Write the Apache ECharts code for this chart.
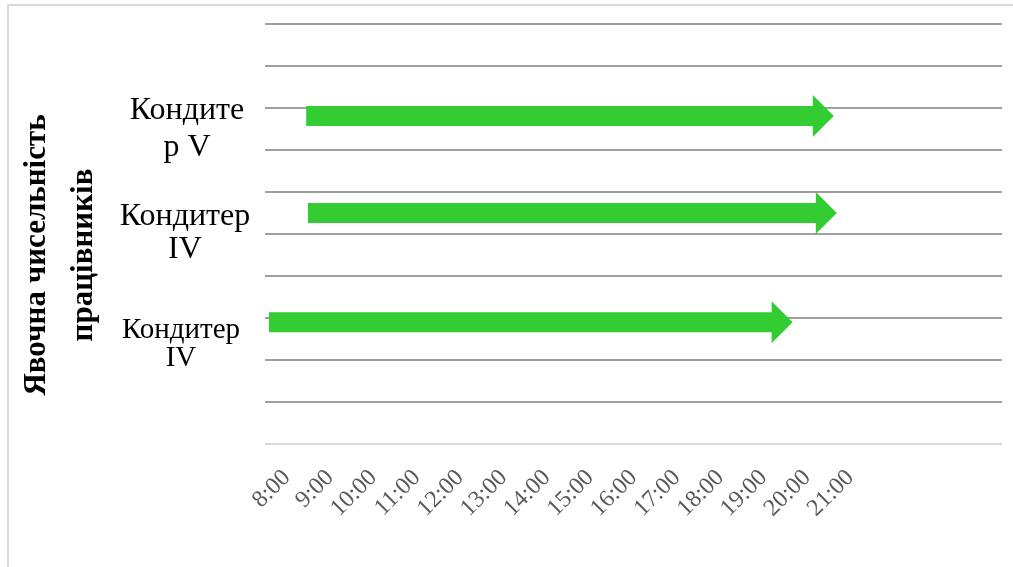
<!DOCTYPE html>
<html>
<head>
<meta charset="utf-8">
<script src="https://cdn.jsdelivr.net/npm/echarts@6/dist/echarts.min.js"></script>
<style>html,body{margin:0;padding:0;background:#fff;}#c{width:1013px;height:567px;}</style>
</head>
<body>
<div id="c"></div>
<script>
// Data
var workers = ['Кондите\nр V', 'Кондитер\nIV', 'Кондитер\nIV'];
var startHours = [8.45, 8.49, 7.59];
var endHours = [20.62, 20.69, 19.67];
var rowLevels = [7.81, 5.5, 2.9];      // vertical position of each arrow (y-axis units)
var labelLevels = [7.5, 5.02, 2.38];   // vertical position of each worker label
var hourTicks = ['8:00','9:00','10:00','11:00','12:00','13:00','14:00','15:00','16:00','17:00','18:00','19:00','20:00','21:00'];
var yTitle = 'Явочна чисельність\nпрацівників';

var chart = echarts.init(document.getElementById('c'), null, {renderer: 'canvas'});
var labelSizes = [32, 32, 29];
var labelLH = [37, 33, 28];
var labelX = [187, 185, 181];

var data = workers.map(function (w, i) {
  return [startHours[i], endHours[i], rowLevels[i], labelLevels[i], i];
});

var gridColors = [];
for (var k = 0; k <= 10; k++) gridColors.push(k === 0 ? '#d9d9d9' : '#a0a0a0');

var option = {
  backgroundColor: '#ffffff',
  animation: false,
  grid: {left: 265, right: 11, top: 24, bottom: 123},
  xAxis: {
    type: 'value', min: 7.5, max: 24.5, interval: 0.5,
    splitLine: {show: false},
    axisLine: {show: false},
    axisTick: {show: false},
    axisLabel: {
      rotate: 45, margin: 30,
      color: '#595959', fontFamily: 'Liberation Serif', fontSize: 24,
      formatter: function (v) {
        if (Math.abs(v - Math.round(v)) > 1e-6) return '';
        var idx = Math.round(v) - 8;
        return (idx >= 0 && idx < hourTicks.length) ? hourTicks[idx] : '';
      }
    }
  },
  yAxis: {
    type: 'value', min: 0, max: 10, interval: 1,
    axisLine: {show: false}, axisTick: {show: false}, axisLabel: {show: false},
    splitLine: {show: true, lineStyle: {color: gridColors, width: 2}}
  },
  graphic: [
    {type: 'rect', silent: true, z: -1, shape: {x: 8, y: 5, width: 1020, height: 580},
     style: {fill: 'none', stroke: '#d9d9d9', lineWidth: 2}},
    {type: 'text', x: 60, y: 255, rotation: Math.PI / 2,
     style: {text: yTitle, font: 'bold 31px "Liberation Serif"', fill: '#000',
             align: 'center', verticalAlign: 'middle', lineHeight: 47}}
  ],
  series: [{
    type: 'custom',
    data: data,
    encode: {x: [0, 1], y: 2},
    renderItem: function (params, api) {
      var s = api.coord([api.value(0), api.value(2)]);
      var e = api.coord([api.value(1), api.value(2)]);
      var ly = api.coord([api.value(0), api.value(3)])[1];
      var i = api.value(4);
      var half = 10, headHalf = 21, headLen = 21;
      var y = s[1];
      var hx = e[0] - headLen;
      return {
        type: 'group',
        children: [
          {type: 'polygon',
           shape: {points: [[s[0], y - half], [hx, y - half], [hx, y - headHalf], [e[0], y],
                            [hx, y + headHalf], [hx, y + half], [s[0], y + half]]},
           style: {fill: '#33cc33'}},
          {type: 'text', x: labelX[i], y: ly,
           style: {text: workers[i], fill: '#000', font: labelSizes[i] + 'px "Liberation Serif"',
                   align: 'center', verticalAlign: 'middle', lineHeight: labelLH[i]}}
        ]
      };
    }
  }]
};
chart.setOption(option);
</script>
</body>
</html>
